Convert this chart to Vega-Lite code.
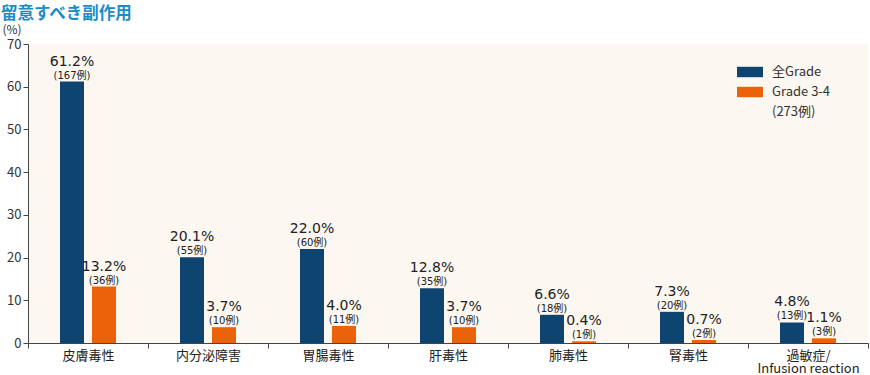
{
  "$schema": "https://vega.github.io/schema/vega-lite/v6.json",
  "autosize": {"type": "none"},
  "padding": {"left": 28, "top": 44, "right": 2, "bottom": 32},
  "width": 840,
  "height": 299,
  "title": {"text": "留意すべき副作用", "anchor": "start", "frame": "group", "dx": -27, "dy": 3, "fontSize": 16.5, "fontWeight": "bold", "color": "#1a8cc6", "font": "Noto Sans CJK JP", "offset": 4},
  "config": {
    "font": "Noto Sans CJK JP",
    "view": {"fill": "#fcf7f1", "stroke": null}
  },
  "data": {"values": [
    {"cat": "皮膚毒性", "grade": "全Grade", "value": 61.2, "pct": "61.2%", "n": "(167例)"},
    {"cat": "皮膚毒性", "grade": "Grade 3-4", "value": 13.2, "pct": "13.2%", "n": "(36例)"},
    {"cat": "内分泌障害", "grade": "全Grade", "value": 20.1, "pct": "20.1%", "n": "(55例)"},
    {"cat": "内分泌障害", "grade": "Grade 3-4", "value": 3.7, "pct": "3.7%", "n": "(10例)"},
    {"cat": "胃腸毒性", "grade": "全Grade", "value": 22.0, "pct": "22.0%", "n": "(60例)"},
    {"cat": "胃腸毒性", "grade": "Grade 3-4", "value": 4.0, "pct": "4.0%", "n": "(11例)"},
    {"cat": "肝毒性", "grade": "全Grade", "value": 12.8, "pct": "12.8%", "n": "(35例)"},
    {"cat": "肝毒性", "grade": "Grade 3-4", "value": 3.7, "pct": "3.7%", "n": "(10例)"},
    {"cat": "肺毒性", "grade": "全Grade", "value": 6.6, "pct": "6.6%", "n": "(18例)"},
    {"cat": "肺毒性", "grade": "Grade 3-4", "value": 0.4, "pct": "0.4%", "n": "(1例)"},
    {"cat": "腎毒性", "grade": "全Grade", "value": 7.3, "pct": "7.3%", "n": "(20例)"},
    {"cat": "腎毒性", "grade": "Grade 3-4", "value": 0.7, "pct": "0.7%", "n": "(2例)"},
    {"cat": "過敏症/Infusion reaction", "grade": "全Grade", "value": 4.8, "pct": "4.8%", "n": "(13例)"},
    {"cat": "過敏症/Infusion reaction", "grade": "Grade 3-4", "value": 1.1, "pct": "1.1%", "n": "(3例)"}
  ]},
  "encoding": {
    "x": {"field": "cat", "type": "nominal", "sort": null,
      "scale": {"paddingInner": 0, "paddingOuter": 0},
      "axis": {"title": null, "labelAngle": 0, "tickBand": "extent", "tickSize": 5, "labelPadding": 1,
        "domainColor": "#444", "tickColor": "#444", "labelColor": "#222", "labelFontSize": 13,
        "labelExpr": "datum.label == '過敏症/Infusion reaction' ? ['過敏症/', 'Infusion reaction'] : datum.label",
        "labelLineHeight": 13}},
    "xOffset": {"field": "grade", "type": "nominal", "sort": ["全Grade", "Grade 3-4"],
      "scale": {"paddingInner": 0.25, "paddingOuter": 1.0}},
    "y": {"field": "value", "type": "quantitative",
      "scale": {"domain": [0, 70], "nice": false},
      "axis": {"values": [0, 10, 20, 30, 40, 50, 60, 70], "grid": false, "title": "(%)", "titleAngle": 0,
        "titleX": -26, "titleY": -15, "titleAlign": "left", "titleBaseline": "middle", "titleFontWeight": "normal", "titleFontSize": 12,
        "titleColor": "#333", "tickSize": 5, "labelPadding": 2, "domainColor": "#444", "tickColor": "#444",
        "labelColor": "#333", "labelFontSize": 13}}
  },
  "layer": [
    {"mark": {"type": "bar"},
      "encoding": {"color": {"field": "grade", "type": "nominal",
        "scale": {"domain": ["全Grade", "Grade 3-4", "(273例)"], "range": ["#0d4470", "#ec6209", "transparent"]},
        "legend": {"title": null, "orient": "none", "legendX": 709, "legendY": 15,
          "symbolType": "M-1,-0.4H1V0.4H-1Z", "symbolSize": 676, "symbolStrokeWidth": 0,
          "labelFontSize": 13, "labelColor": "#333", "labelOffset": 9, "rowPadding": -2}}}},
    {"mark": {"type": "text", "baseline": "alphabetic", "dy": -3, "fontSize": 10, "color": "#222", "font": "DejaVu Sans, Noto Sans CJK JP"},
      "encoding": {"text": {"field": "n"}}},
    {"mark": {"type": "text", "baseline": "alphabetic", "dy": -16, "fontSize": 14, "color": "#222", "font": "DejaVu Sans, Noto Sans CJK JP"},
      "encoding": {"text": {"field": "pct"}}}
  ]
}
